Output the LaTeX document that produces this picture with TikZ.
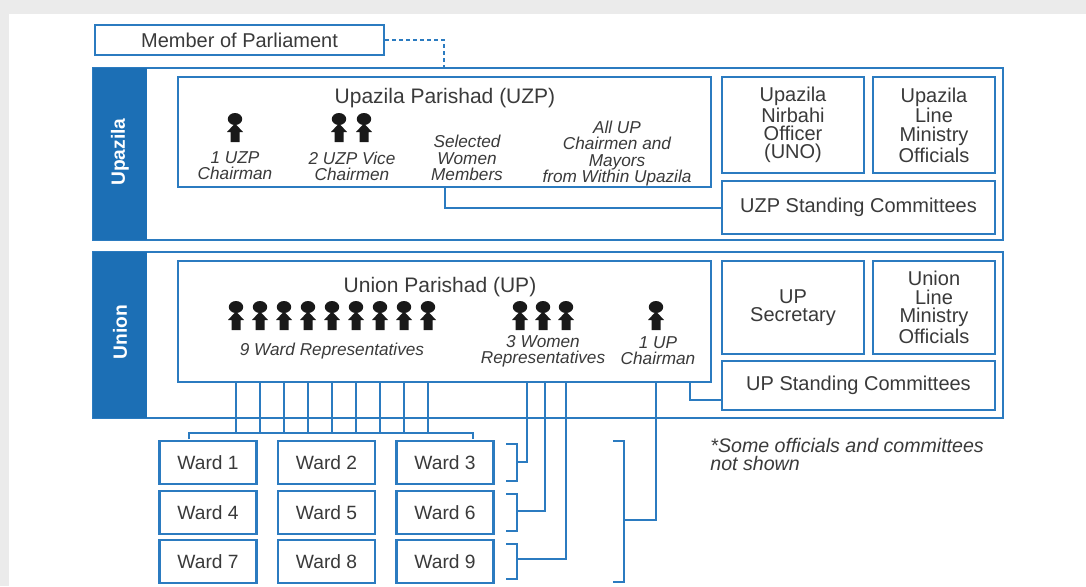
\documentclass[tikz,border=0pt]{standalone}
\usepackage{fontspec}
\setmainfont{Liberation Sans}
\definecolor{lineblue}{HTML}{2B7BC0}
\definecolor{stripblue}{HTML}{1C6FB5}
\definecolor{txtgray}{HTML}{3A3A3A}
\tikzset{
 box/.style={draw=lineblue, line width=1.2pt, fill=white, inner sep=0pt, align=center, text=txtgray, font=\fontsize{10}{9.2}\selectfont},
 wardbox/.style={box, minimum width=48.5pt, minimum height=21.5pt, font=\fontsize{9.6}{10}\selectfont},
 band/.style={draw=lineblue, line width=1pt},
 link/.style={draw=lineblue, line width=1pt},
 dotlink/.style={draw=lineblue, line width=1pt, dash pattern=on 2pt off 1.5pt},
 title/.style={text=txtgray, font=\fontsize{10.5}{11}\selectfont, inner sep=0pt},
 lbl/.style={text=txtgray, align=center, inner sep=0pt, font=\fontsize{8.6}{8.1}\selectfont\itshape},
 striptext/.style={text=white, rotate=90, font=\fontsize{9.6}{10}\selectfont\bfseries},
 person/.pic={
  \fill[black!90] (0,-23) ellipse [x radius=3.6pt, y radius=3pt];
  \fill[black!90] (-1.5,-17) -- (1.5,-17) -- (8,-10) -- (4.5,-10) -- (4.5,0) -- (-4.5,0) -- (-4.5,-10) -- (-8,-10) -- cycle;
 }
}
\begin{document}
\begin{tikzpicture}[x=0.5pt,y=-0.5pt]
 \useasboundingbox (0,0) rectangle (1086,586);
 \fill[black!8] (0,0) rectangle (1086,586); % 背景の影
 \fill[white] (9,14) rectangle (1086,586); % 白い台紙

 % Upazila の帯
 \draw[band] (93,68) rectangle (1003,240);
 \fill[stripblue] (93,68) rectangle (147,240);
 \node[striptext] (upzlabel) at (120,152) {Upazila};

 % Union の帯
 \draw[band] (93,252) rectangle (1003,418);
 \fill[stripblue] (93,252) rectangle (147,418);
 \node[striptext] (unlabel) at (120,332) {Union};

 \node[box, minimum width=144.5pt, minimum height=15pt] (mp) at (239.5,40) {Member of Parliament};

 \node[box, minimum width=266.5pt, minimum height=55pt] (uzp) at (444.5,132) {}; % UZP の枠
 \node[box, minimum width=71pt, minimum height=48pt] (uno) at (793,125) {Upazila\\Nirbahi\\Officer\\(UNO)};
 \node[box, minimum width=61pt, minimum height=48pt] (uzplm) at (934,125) {Upazila\\Line\\Ministry\\Officials};
 \node[box, minimum width=136.5pt, minimum height=26.5pt] (uzpsc) at (858.5,207.5) {UZP Standing Committees};

 \node[box, minimum width=266.5pt, minimum height=60.5pt] (up) at (444.5,321.5) {}; % UP の枠
 \node[box, minimum width=71pt, minimum height=46.5pt] (upsec) at (793,307.5) {UP\\Secretary};
 \node[box, minimum width=61pt, minimum height=46.5pt] (unlm) at (934,307.5) {Union\\Line\\Ministry\\Officials};
 \node[box, minimum width=136.5pt, minimum height=24.5pt] (upsc) at (858.5,385.5) {UP Standing Committees};

 % UZP の中身
 \node[title] (uzptitle) at (445,98) {Upazila Parishad (UZP)};
 \pic at (235,142) {person};
 \pic at (339,142) {person};
 \pic at (364,142) {person};
 \node[lbl] (uzpch) at (235,166) {1 UZP\\Chairman};
 \node[lbl] (uzpvc) at (352,166) {2 UZP Vice\\Chairmen};
 \node[lbl] (uzpwm) at (467,158) {Selected\\Women\\Members};
 \node[lbl] (uzpall) at (617,153.5) {All UP\\Chairmen and\\Mayors\\from Within Upazila};

 % UP の中身
 \node[title] (uptitle) at (440,287) {Union Parishad (UP)};
 \foreach \i in {0,...,8}
  \pic at ({236+24*\i},330) {person};
 \foreach \x in {520,543,566}
  \pic at (\x,330) {person};
 \pic at (656,330) {person};
 \node[lbl] (upward) at (332,351) {9 Ward Representatives};
 \node[lbl] (upwomen) at (543,351) {3 Women\\Representatives};
 \node[lbl] (upch) at (658,351) {1 UP\\Chairman};

 % 区 (Ward) の箱
 \foreach \c/\x in {1/208,2/326.5,3/445}
  \foreach \r/\y in {0/462.5,1/512.5,2/561.5} {
   \pgfmathtruncatemacro\n{\r*3+\c}
   \node[wardbox] (w\n) at (\x,\y) {Ward \n};
  }

 \node[text=txtgray, align=left, anchor=north west, inner sep=0pt, font=\fontsize{9.8}{8.9}\selectfont\itshape] (note) at (710,438) {*Some officials and committees\\ not shown};

 % 接続線
 \coordinate (mpend) at (444,68);
 \draw[dotlink] (mp.east) -| (mpend);
 \draw[link] (uzp.south) |- (uzpsc.west);
 \coordinate (upx) at (690,400);
 \draw[link] (up.south -| upx) |- (upsc.west |- upx);

 \foreach \i in {0,...,8} {
  \coordinate (t) at ({236+24*\i},433);
  \draw[link] (up.south -| t) -- (t);
 }
 \coordinate (barl) at (189,439);
 \coordinate (barr) at (473,439);
 \draw[link] (barl) -- ++(0,-6) -- ++(284,0) -- (barr);

 % 女性代表から各列へ
 \foreach \x/\ym/\yt/\yb in {527/462/444/481,545/511/494/531,566/559/544/579} {
  \coordinate (wx) at (\x,\ym);
  \coordinate (br) at (517,\ym);
  \draw[link] (506,\yt) -- (517,\yt) -- (517,\yb) -- (506,\yb);
  \draw[link] (up.south -| wx) |- (br);
 }

 % 議長から全区へ
 \coordinate (chx) at (656,520);
 \coordinate (bigbr) at (624,520);
 \draw[link] (613,441) -- (624,441) -- (624,582) -- (613,582);
 \draw[link] (up.south -| chx) |- (bigbr);
\end{tikzpicture}
\end{document}
